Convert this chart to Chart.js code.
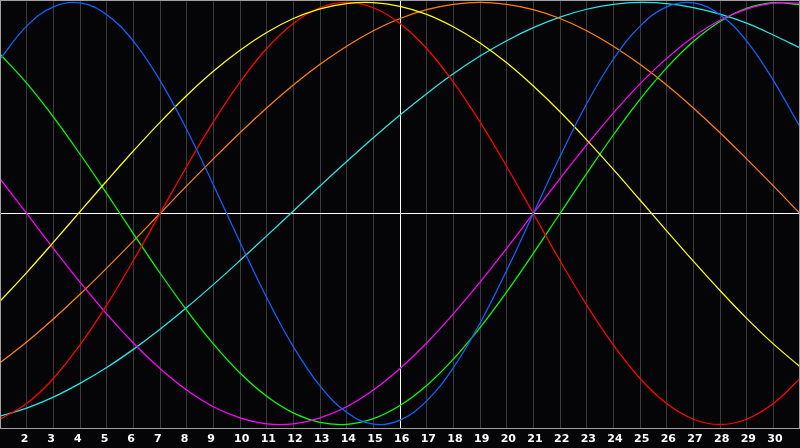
<!DOCTYPE html>
<html lang="en">

<head>
  <meta charset="UTF-8">
  <title>Biorhythm</title>
  <script src="https://cdn.jsdelivr.net/npm/chart.js@4.4.1/dist/chart.umd.min.js"></script>
  <style>
    html, body { margin: 0; padding: 0; background: #050508; }
    #wrap { width: 800px; height: 448px; position: relative; }
  </style>
</head>

<body>
  <div id="wrap"><canvas id="chart"></canvas></div>

  <script>
    // days on the x axis (1 and 31 are the edges, no label)
    const days = [1, 2, 3, 4, 5, 6, 7, 8, 9, 10, 11, 12, 13, 14, 15, 16, 17, 18, 19, 20, 21, 22, 23, 24, 25, 26, 27, 28, 29, 30, 31];
    const today = 16;

    // values, -1 .. 1
    const blue = [0.731, 0.888, 0.979, 0.998, 0.942, 0.817, 0.631, 0.398, 0.136, -0.136, -0.398, -0.631, -0.817, -0.942, -0.998, -0.979,
      -0.888, -0.731, -0.520, -0.270, 0, 0.270, 0.520, 0.731, 0.888, 0.979, 0.998, 0.942, 0.817, 0.631, 0.41];
    const red = [-0.975, -0.901, -0.782, -0.623, -0.434, -0.223, 0, 0.223, 0.434, 0.623, 0.782, 0.901, 0.975, 1.0, 0.975, 0.901,
      0.782, 0.623, 0.434, 0.223, 0, -0.223, -0.434, -0.623, -0.782, -0.901, -0.975, -1.0, -0.975, -0.901, -0.782];
    const green = [0.756, 0.618, 0.458, 0.282, 0.095, -0.095, -0.282, -0.458, -0.618, -0.756, -0.866, -0.945, -0.990, -0.999, -0.972, -0.910,
      -0.815, -0.690, -0.541, -0.372, -0.189, 0, 0.189, 0.372, 0.541, 0.690, 0.815, 0.910, 0.972, 0.999, 0.990];
    const yellow = [-0.416, -0.280, -0.137, 0.009, 0.154, 0.296, 0.432, 0.559, 0.674, 0.774, 0.858, 0.924, 0.970, 0.995, 0.999, 0.982,
      0.944, 0.885, 0.808, 0.714, 0.604, 0.482, 0.349, 0.209, 0.064, -0.082, -0.226, -0.365, -0.497, -0.618, -0.726];
    const magenta = [0.165, 0, -0.165, -0.325, -0.476, -0.614, -0.735, -0.837, -0.916, -0.969, -0.997, -0.997, -0.969, -0.916, -0.837, -0.735,
      -0.614, -0.476, -0.325, -0.165, 0, 0.165, 0.325, 0.476, 0.614, 0.735, 0.837, 0.916, 0.969, 0.997, 0.997];
    const orange = [-0.707, -0.609, -0.500, -0.383, -0.259, -0.131, 0, 0.131, 0.259, 0.383, 0.500, 0.609, 0.707, 0.793, 0.866, 0.924,
      0.966, 0.991, 1.0, 0.991, 0.966, 0.924, 0.866, 0.793, 0.707, 0.609, 0.500, 0.383, 0.259, 0.131, 0];
    const cyan = [-0.961, -0.922, -0.870, -0.805, -0.730, -0.644, -0.549, -0.446, -0.337, -0.223, -0.106, 0.012, 0.130, 0.246, 0.359, 0.467,
      0.568, 0.662, 0.746, 0.819, 0.881, 0.931, 0.968, 0.991, 1.0, 0.995, 0.976, 0.945, 0.902, 0.846, 0.785];

    const series = [
      { data: blue, color: '#0a64ff' },
      { data: yellow, color: '#ffff00' },
      { data: red, color: '#ff0000' },
      { data: magenta, color: '#ff00ff' },
      { data: green, color: '#00ff00' },
      { data: orange, color: '#ff8000' },
      { data: cyan, color: '#22e8e8' }
    ];

    // grey frame round the plot area
    const frame = {
      id: 'frame',
      afterDraw(chart) {
        const a = chart.chartArea;
        const c = chart.ctx;
        c.save();
        c.strokeStyle = '#a0a0a0';
        c.lineWidth = 1;
        c.strokeRect(a.left + 0.5, a.top + 0.5, a.right - a.left - 1, a.bottom - a.top);
        c.restore();
      }
    };

    new Chart(document.getElementById('chart'), {
      type: 'line',
      data: {
        labels: days,
        datasets: series.map(s => ({
          data: s.data,
          borderColor: s.color,
          borderWidth: 1.25,
          pointRadius: 0,
          tension: 0.4,
          fill: false
        }))
      },
      options: {
        responsive: true,
        maintainAspectRatio: false,
        animation: false,
        layout: { padding: 0 },
        plugins: { legend: { display: false }, tooltip: { enabled: false } },
        scales: {
          x: {
            offset: false,
            afterFit: (s) => { s.height = 20; s.paddingLeft = 0; s.paddingRight = 0; },
            border: { display: false },
            grid: {
              drawTicks: false,
              color: (ctx) => days[ctx.index] === today ? '#ffffff' : '#3a3a3a'
            },
            ticks: {
              autoSkip: false,
              maxRotation: 0,
              align: 'start',
              labelOffset: -6,
              padding: 5,
              color: '#ffffff',
              font: { family: 'DejaVu Sans', size: 11, weight: 'bold' },
              callback: (v, i) => (i === 0 || i === days.length - 1) ? '' : days[i]
            }
          },
          y: {
            min: -1.0166,
            max: 1.0118,
            afterFit: (s) => { s.width = 0; },
            afterBuildTicks: (s) => { s.ticks = [{ value: 0 }]; },
            border: { display: false },
            grid: { drawTicks: false, color: '#ffffff' },
            ticks: { display: false }
          }
        }
      },
      plugins: [frame]
    });
  </script>
</body>

</html>
